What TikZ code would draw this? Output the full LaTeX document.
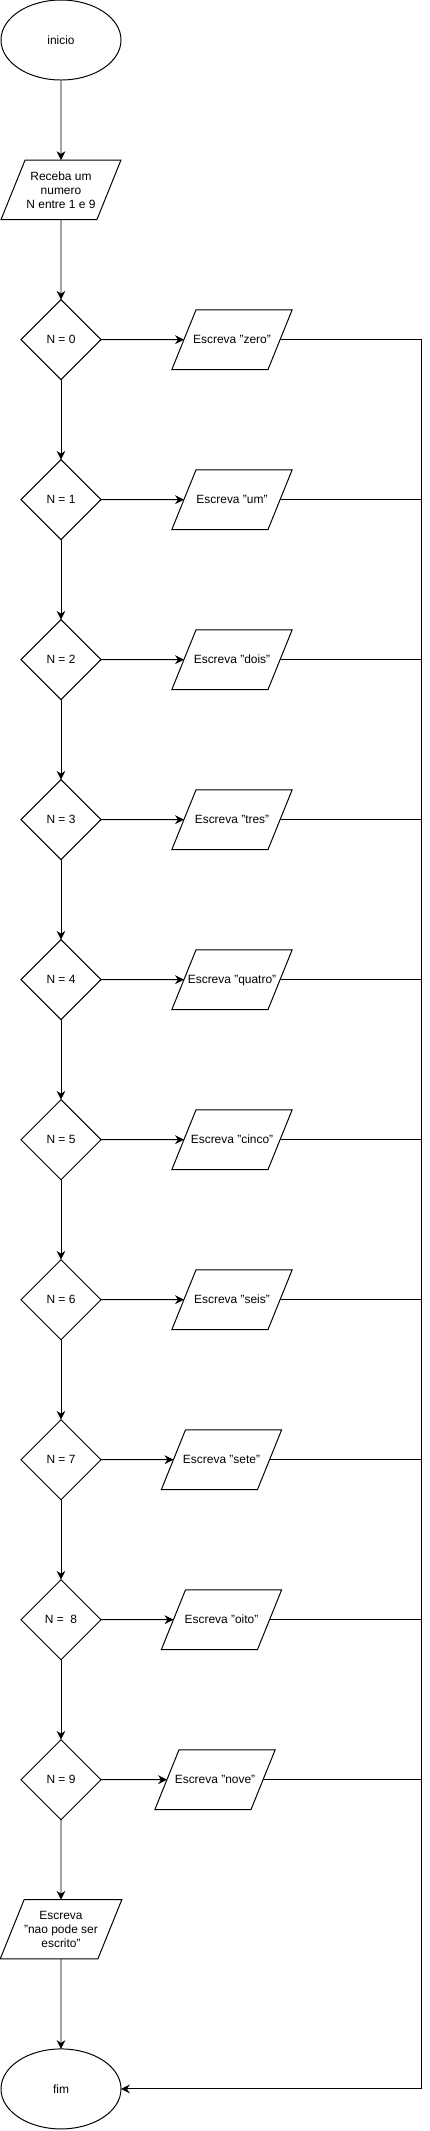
\documentclass[tikz,border=0pt]{standalone}
\usepackage{fontspec}
\setmainfont{Liberation Sans}
\usepackage{tikz}
\usetikzlibrary{positioning, shapes.geometric, arrows.meta, calc}

% text of an output box may run over the slanted sides
\newcommand{\outtxt}[1]{\makebox[1.8cm]{#1}}

\begin{document}
\begin{tikzpicture}[
  font=\fontsize{8.5}{10}\selectfont,
  node distance=2cm,
  line width=0.7pt,
  every node/.style={outer sep=0pt},
  term/.style={draw, ellipse, minimum width=3cm, minimum height=2cm, inner sep=0pt},
  iobase/.style={draw, trapezium, trapezium left angle=68, trapezium right angle=112, trapezium stretches body=true, minimum width=3cm, inner xsep=0pt},
  io/.style={iobase, text height=7pt, text depth=2pt, inner ysep=16.75pt},
  iobig/.style={iobase, align=center, inner ysep=8.1pt},
  test/.style={draw, diamond, aspect=1, minimum width=2cm, minimum height=2cm, inner sep=0pt},
  >={Stealth[length=2.2mm, width=2.2mm, inset=0.7mm]},
]
\useasboundingbox (0,0) rectangle (10.75,-53.275);

\node[term] (ini) at (1.525,-1) {inicio};
\node[iobig, below=of ini] (rec) {Receba um\\numero\\N entre 1 e 9};

\node[test, below=of rec] (n0) {N = 0};
\node[test, below=of n0] (n1) {N = 1};
\node[test, below=of n1] (n2) {N = 2};
\node[test, below=of n2] (n3) {N = 3};
\node[test, below=of n3] (n4) {N = 4};
\node[test, below=of n4] (n5) {N = 5};
\node[test, below=of n5] (n6) {N = 6};
\node[test, below=of n6] (n7) {N = 7};
\node[test, below=of n7] (n8) {N =\ \ 8};
\node[test, below=of n8] (n9) {N = 9};

\node[io, right=3.275cm of n0, anchor=center] (w0) {\outtxt{Escreva "zero"}};
\node[io, right=3.275cm of n1, anchor=center] (w1) {\outtxt{Escreva "um"}};
\node[io, right=3.275cm of n2, anchor=center] (w2) {\outtxt{Escreva "dois"}};
\node[io, right=3.275cm of n3, anchor=center] (w3) {\outtxt{Escreva "tres"}};
\node[io, right=3.275cm of n4, anchor=center] (w4) {\outtxt{Escreva "quatro"}};
\node[io, right=3.275cm of n5, anchor=center] (w5) {\outtxt{Escreva "cinco"}};
\node[io, right=3.275cm of n6, anchor=center] (w6) {\outtxt{Escreva "seis"}};
\node[io, right=3.0125cm of n7, anchor=center] (w7) {\outtxt{Escreva "sete"}};
\node[io, right=3.0125cm of n8, anchor=center] (w8) {\outtxt{Escreva "oito"}};
\node[io, right=2.85cm of n9, anchor=center] (w9) {\outtxt{Escreva "nove"}};

\node[iobig, below=of n9] (nao) {Escreva\\"nao pode ser\\escrito"};
\node[term, below=2.25cm of nao] (fim) {fim};

\coordinate (bus) at (10.525,0);

% main column
\draw[->] (ini) -- (rec);
\draw[->] (rec) -- (n0);
\draw[->] (n0) -- (n1);
\draw[->] (n1) -- (n2);
\draw[->] (n2) -- (n3);
\draw[->] (n3) -- (n4);
\draw[->] (n4) -- (n5);
\draw[->] (n5) -- (n6);
\draw[->] (n6) -- (n7);
\draw[->] (n7) -- (n8);
\draw[->] (n8) -- (n9);
\draw[->] (n9) -- (nao);
\draw[->] (nao) -- (fim);

% yes branches
\draw[->] (n0) -- (w0);
\draw[->] (n1) -- (w1);
\draw[->] (n2) -- (w2);
\draw[->] (n3) -- (w3);
\draw[->] (n4) -- (w4);
\draw[->] (n5) -- (w5);
\draw[->] (n6) -- (w6);
\draw[->] (n7) -- (w7);
\draw[->] (n8) -- (w8);
\draw[->] (n9) -- (w9);

% back to fim
\draw (w1.east) -- (w1.east -| bus);
\draw (w2.east) -- (w2.east -| bus);
\draw (w3.east) -- (w3.east -| bus);
\draw (w4.east) -- (w4.east -| bus);
\draw (w5.east) -- (w5.east -| bus);
\draw (w6.east) -- (w6.east -| bus);
\draw (w7.east) -- (w7.east -| bus);
\draw (w8.east) -- (w8.east -| bus);
\draw (w9.east) -- (w9.east -| bus);
\draw[->] (w0.east) -| (bus |- fim.east) -- (fim.east);
\end{tikzpicture}
\end{document}
